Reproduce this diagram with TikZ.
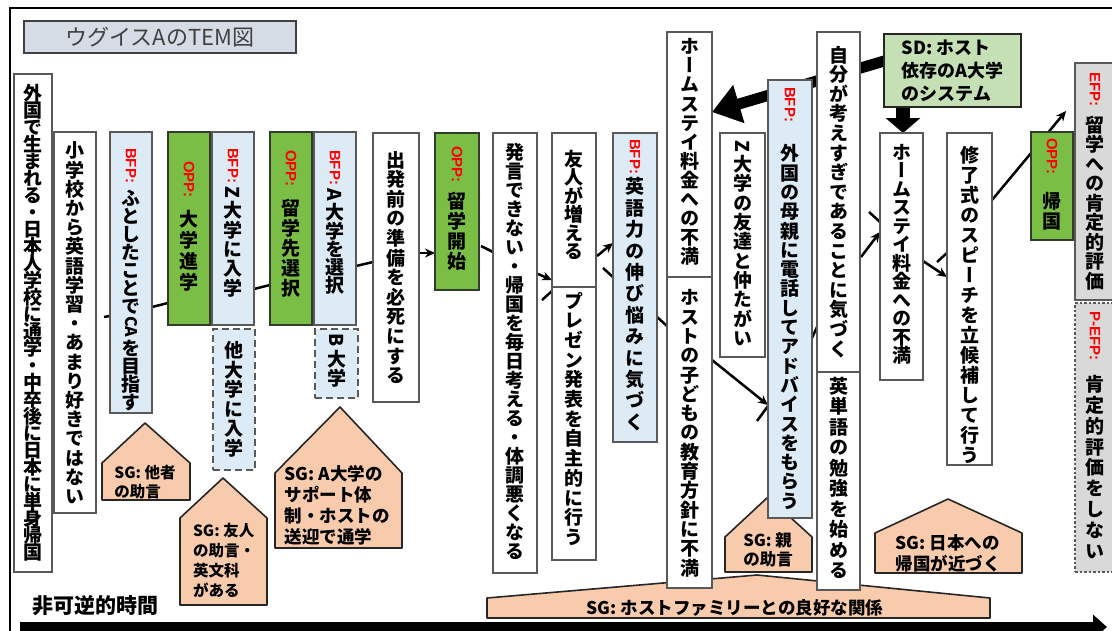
\documentclass[tikz,border=0pt]{standalone}
\usepackage{fontspec}
\usepackage{graphicx}
\setmainfont{Noto Sans CJK JP}
\newfontfamily\jv{Noto Sans CJK JP}[RawFeature=+vert]
\newfontfamily\latfont{Liberation Sans}
\usetikzlibrary{calc,arrows.meta}
\definecolor{bordergray}{RGB}{89,89,89}
\definecolor{lblue}{RGB}{221,235,247}
\definecolor{oppgreen}{RGB}{122,190,70}
\definecolor{oppborder}{RGB}{50,60,45}
\definecolor{titlefill}{RGB}{214,220,229}
\definecolor{sdfill}{RGB}{197,224,180}
\definecolor{sgfill}{RGB}{248,203,173}
\definecolor{efpfill}{RGB}{217,217,217}
\definecolor{labred}{RGB}{255,0,0}
\pgfdeclarelayer{bg}
\pgfsetlayers{bg,main}
\newdimen\vpitch \vpitch=19pt
\newdimen\vcolw \vcolw=26pt
\newcommand\vitem[1]{%
  \setbox0=\hbox{#1}%
  \ifdim\ht0<0.1em
    \kern1pt\hbox to\vcolw{\hss\box0\hss}%
  \else
    \hbox to\vcolw{\hss\vbox to\vpitch{\vss\hbox{\vrule height .88em depth .12em width 0pt\box0}\vss}\hss}%
  \fi}
\ExplSyntaxOn
\cs_new_protected:Npn \my_vstack:n #1 { \tl_map_inline:nn {#1} { \vitem{##1} } }
\NewDocumentCommand \Vstack { m } { \my_vstack:n {#1} }
\ExplSyntaxOff
\newcommand\myvfont{\jv\bfseries\fontsize{19}{20}\selectfont}
\newcommand\labfont{\latfont\bfseries\fontsize{15}{16}\selectfont}
\newcommand\rl[2][3pt]{\rotatebox{-90}{#2\kern#1}}
\newcommand\lab[2][6pt]{\rotatebox{-90}{\labfont\color{labred}#2\kern#1}}
\newcommand\vcol[9]{%
  \pgfmathsetmacro\mycw{#5-#3}%
  \pgfmathsetmacro\mych{#6-#4}%
  \node[#1,minimum width=\mycw pt,minimum height=\mych pt,anchor=north west] (#2) at (#3,#4)
    {\vbox to \mych pt{\offinterlineskip\vpitch=#8pt\relax\kern#7pt\relax\Vstack{#9}\vss}};}
\tikzset{
  colbox/.style={draw=bordergray,line width=2.5pt,fill=white,inner sep=0pt,outer sep=0pt,font=\myvfont},
  bfpbox/.style={colbox,fill=lblue},
  oppbox/.style={colbox,fill=oppgreen,draw=oppborder},
  dashbox/.style={colbox,fill=lblue,dash pattern=on 7pt off 4pt},
  efpbox/.style={colbox,fill=efpfill},
  pefpbox/.style={colbox,fill=efpfill,dash pattern=on 2.5pt off 2pt},
  conn/.style={line width=2.5pt,draw=black},
  arr/.style={conn,-{Stealth[length=10pt,width=9pt]}},
  bigarr/.style={line width=11pt,draw=black,-{Triangle[length=28pt,width=38pt]}},
  bigdown/.style={line width=14pt,draw=black,-{Triangle[length=15pt,width=34pt]}},
  sgshape/.style={fill=sgfill,draw=black!85,line width=1.6pt,line join=round},
  sgtext/.style={inner sep=0pt,align=left},
}
\begin{document}
\begin{tikzpicture}[x=1pt,y=-1pt]
\useasboundingbox (0,0) rectangle (1112,630);
\clip (0,0) rectangle (1112,630);
\draw[line width=2pt] (10,650) -- (10,8) -- (1130,8);
\node[draw=black!75,line width=2pt,fill=titlefill,minimum width=272pt,minimum height=32pt,anchor=north west,inner sep=0pt,font=\fontsize{22}{24}\selectfont,text=black!75] (title) at (23,20) {ウグイスAのTEM図};

\vcol{colbox}{b1}{14}{74}{52}{572}{11}{17.0}{外国で生まれる・日本人学校に通学・中卒後に日本に単身帰国}
\vcol{colbox}{b2}{54}{132}{96}{513}{9}{19.2}{小学校から英語学習・あまり好きではない}
\vcol{bfpbox}{b3}{110}{132}{152}{413}{15}{18}{{\lab{BFP:}}ふとしたことで{\rl[2pt]{\fontsize{16}{16}\selectfont CA}}を目指す}
\vcol{oppbox}{b4}{168}{132}{210}{325}{28}{21}{{\lab[11pt]{OPP:}}大学進学}
\vcol{bfpbox}{b5}{212}{132}{254}{325}{15}{19.4}{{\lab[2pt]{BFP:}}{\rl{Z}}大学に入学}
\vcol{dashbox}{b5x}{213}{329}{255}{470}{12}{19.5}{他大学に入学}
\vcol{oppbox}{b6}{270}{132}{312}{325}{17}{20}{{\lab[12pt]{OPP:}}留学先選択}
\vcol{bfpbox}{b7}{314}{132}{356}{325}{17}{18.2}{{\lab[2pt]{BFP:}}{\rl{A}}大学を選択}
\vcol{dashbox}{b7x}{315}{329}{358}{398}{3}{19.5}{{\rl{B}}大学}
\vcol{colbox}{b8}{373}{133}{419}{402}{17}{19.6}{出発前の準備を必死にする}
\vcol{oppbox}{b9}{435}{133}{479}{290}{12}{20}{{\lab[9pt]{OPP:}}留学開始}
\vcol{colbox}{b10}{493}{133}{537}{573}{10}{19}{発言できない・帰国を毎日考える・体調悪くなる}
\vcol{colbox}{b11}{552}{133}{596}{287}{17}{18.5}{友人が増える}
\vcol{colbox}{b12}{552}{287}{596}{560}{4}{19.7}{プレゼン発表を自主的に行う}
\vcol{bfpbox}{b13}{613}{133}{657}{442}{5}{21.4}{{\lab[2pt]{BFP:}}英語力の伸び悩みに気づく}
\vcol{colbox}{b14}{667}{32}{712}{277}{5}{19.1}{ホームステイ料金への不満}
\vcol{colbox}{b15}{667}{277}{712}{588}{11}{19.3}{ホストの子どもの教育方針に不満}
\vcol{colbox}{b16}{720}{133}{765}{357}{6}{19.3}{{\rl{Z}}大学の友達と仲たがい}
\vcol{bfpbox}{b17}{768}{80}{812}{518}{6}{19.3}{{\lab[22pt]{BFP:}}外国の母親に電話してアドバイスをもらう}
\vcol{colbox}{b18}{817}{32}{860}{372}{13}{19.6}{自分が考えすぎであることに気づく}
\vcol{colbox}{b19}{817}{372}{860}{590}{4}{20.5}{英単語の勉強を始める}
\vcol{colbox}{b20}{880}{133}{923}{380}{10}{18.5}{ホームステイ料金への不満}
\vcol{colbox}{b21}{947}{133}{992}{465}{12}{20}{修了式のスピーチを立候補して行う}
\vcol{oppbox}{b22}{1031}{132}{1073}{240}{5}{19.5}{{\lab[17pt]{OPP:}}帰国}
\vcol{efpbox}{b23}{1075}{63}{1115}{300}{8}{19.5}{{\lab[9pt]{EFP:}}留学への肯定的評価}
\vcol{pefpbox}{b24}{1075}{303}{1115}{572}{7}{20.8}{{\lab[14pt]{P-EFP:}}肯定的評価をしない}

\node[draw=black!85,line width=2pt,fill=sdfill,minimum width=137pt,minimum height=73pt,anchor=north west,align=left,inner sep=0pt,font=\bfseries\fontsize{18}{23}\selectfont] (sd) at (883,33) {SD: ホスト\\依存のA大学\\のシステム};

\node[sgtext,font=\bfseries\fontsize{15.5}{19}\selectfont] (sg1) at (145,482) {SG: 他者\\の助言};
\node[sgtext,font=\bfseries\fontsize{15.5}{20}\selectfont] (sg2) at (224,560) {SG: 友人\\の助言・\\英文科\\がある};
\node[sgtext,font=\bfseries\fontsize{17.5}{21}\selectfont] (sg3) at (337,505) {SG: A大学の\\サポート体\\制・ホストの\\送迎で通学};
\node[sgtext,font=\bfseries\fontsize{16.5}{19}\selectfont] (sg4) at (768,550) {SG: 親\\の助言};
\node[sgtext,font=\bfseries\fontsize{17.5}{21}\selectfont] (sg5) at (948,553) {SG: 日本への\\帰国が近づく};
\node[sgtext,font=\bfseries\fontsize{17.5}{20}\selectfont] (sg6) at (735,608) {SG: ホストファミリーとの良好な関係};

\node[anchor=west,inner sep=0pt,font=\bfseries\fontsize{21}{24}\selectfont] (tlabel) at (32,606) {非可逆的時間};
\coordinate (t0) at (20,627);
\coordinate (t1) at (1107,627);
\draw[line width=10pt,-{Triangle[length=14pt,width=24pt]}] (t0) -- (t1);

\begin{pgfonlayer}{bg}
\draw[sgshape] (102,500) -- (102,463) -- (145,423) -- (190,463) -- (190,500) -- cycle;
\draw[sgshape] (180,605) -- (180,518) -- (223,478) -- (267,518) -- (267,605) -- cycle;
\draw[sgshape] (275,548) -- (275,473) -- (340,407) -- (402,473) -- (402,548) -- cycle;
\draw[sgshape] (725,572) -- (725,537) -- (768,497) -- (812,537) -- (812,572) -- cycle;
\draw[sgshape] (875,573) -- (875,533) -- (948,499) -- (1022,533) -- (1022,573) -- cycle;
\draw[sgshape] (487,618) -- (487,598) -- (757,575) -- (990,598) -- (990,618) -- cycle;

\draw[conn] ($(b2.north east)+(8,185)$) -- ($(b3.north west)+(0,184)$);
\draw[conn] ($(b3.north east)+(0,175)$) -- ($(b4.north west)+(0,171)$);
\draw[conn] ($(b5.north east)+(0,157)$) -- ($(b6.north west)+(0,153)$);
\draw[conn] ($(b7.north east)+(0,134)$) -- ($(b8.north west)+(0,129)$);
\draw[arr] ($(b8.north east)+(0,120)$) -- ($(b9.north west)+(0,120)$);
\draw[conn] ($(b9.north east)+(2,113)$) -- ($(b10.north west)+(0,119)$);
\draw[arr] ($(b10.north east)+(1,141)$) -- ($(b11.north west)+(0,147)$);
\draw[conn] ($(b10.north east)+(5,167)$) -- ($(b12.north west)+(0,4)$);
\draw[arr] ($(b11.north east)+(1,123)$) -- ($(b13.north west)+(0,110)$);
\draw[conn] ($(b11.north east)+(7,135)$) -- ($(b15.north west)+(0,49)$);
\draw[arr] ($(b15.north east)+(0,83)$) -- ($(b17.north west)+(0,325)$);
\draw[conn] ($(b17.north west)+(-11,341)$) -- ($(b17.north west)+(0,326)$);
\draw[conn] ($(b17.north east)+(0,258)$) -- ($(b18.north west)+(0,295)$);
\draw[arr] ($(b18.north east)+(1,225)$) -- ($(b20.north west)+(0,99)$);
\draw[conn] ($(b20.north west)+(-11,79)$) -- ($(b20.north west)+(0,89)$);
\draw[arr] ($(b20.north east)+(0,128)$) -- ($(b21.north west)+(0,144)$);
\draw[conn] ($(b21.north west)+(-10,129)$) -- ($(b21.north west)+(1,119)$);
\draw[arr] ($(b21.north east)+(0,67)$) -- ($(b23.north west)+(-9,48)$);
\draw[bigarr] ($(sd.north west)+(8,26)$) -- ($(b14.north east)+(0,80)$);
\draw[bigdown] ($(sd.south west)+(20,-4)$) -- ($(b20.north west)+(23,0)$);
\end{pgfonlayer}
\end{tikzpicture}
\end{document}
